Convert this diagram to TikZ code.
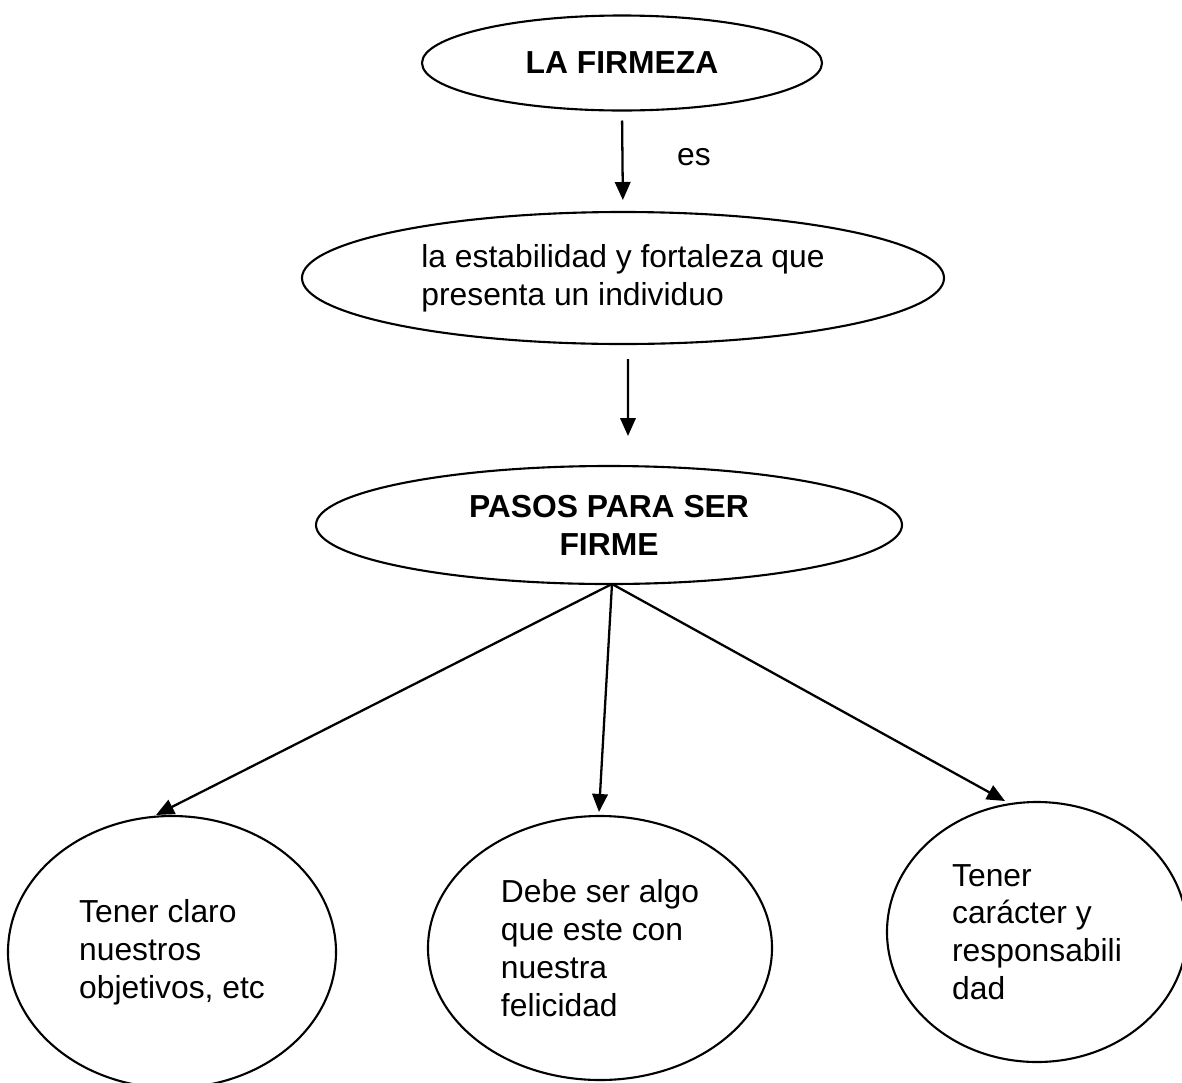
\documentclass[tikz,border=0pt]{standalone}
\usepackage{fontspec}
\setmainfont{Liberation Sans}
\usetikzlibrary{shapes.geometric,arrows.meta,calc}
\begin{document}
\begin{tikzpicture}[scale=0.2]
\tikzstyle{every node}+=[inner sep=0pt]
\tikzstyle{elipse}=[draw=black, line width=1.2pt, ellipse, outer sep=0pt, font=\fontsize{18.1}{21.5}\selectfont]
\tikzstyle{flecha}=[black, line width=1.3pt, -{Triangle[length=0.36cm,width=0.31cm]}]
\useasboundingbox (0,0) rectangle (118.2,-108.2);
\node [elipse, minimum width=8cm, minimum height=1.9cm] (firmeza) at (62.2,-6.3) {\textbf{LA FIRMEZA}};
\node [elipse, minimum width=12.84cm, minimum height=2.64cm, align=left] (estab) at (62.3,-27.8) {la estabilidad y fortaleza que\\presenta un individuo};
\node [elipse, minimum width=11.72cm, minimum height=2.36cm, align=center] (pasos) at (60.9,-52.5) {\textbf{PASOS PARA SER}\\\textbf{FIRME}};
\node [elipse, minimum width=6.56cm, minimum height=5.44cm, align=left] (claro) at (17.2,-95.2) {Tener claro\\nuestros\\objetivos, etc};
\node [elipse, minimum width=6.88cm, minimum height=5.28cm, align=left] (felic) at (60.0,-94.8) {Debe ser algo\\que este con\\nuestra\\felicidad};
\node [elipse, minimum width=6.0cm, minimum height=5.2cm, align=left] (caracter) at (103.7,-93.2) {Tener\\carácter y\\responsabili\\dad};
\node [font=\fontsize{18.1}{21.5}\selectfont] (es) at (69.4,-15.7) {es};
% flechas
\draw [flecha, shorten <=0.2cm, shorten >=0.24cm] (firmeza.south) -- (estab.north);
\draw [flecha] ($(estab.south)+(0.5,-1.5)$) -- ($(pasos.north)+(1.9,3.0)$);
\draw [flecha] ($(pasos.south)+(0.3,0)$) -- ($(claro.north)+(-1.6,0.1)$);
\draw [flecha] ($(pasos.south)+(0.3,0)$) -- ($(felic.north)+(-0.1,0.4)$);
\draw [flecha] ($(pasos.south)+(0.3,0)$) -- ($(caracter.north)+(-3.2,0.1)$);
\end{tikzpicture}
\end{document}
